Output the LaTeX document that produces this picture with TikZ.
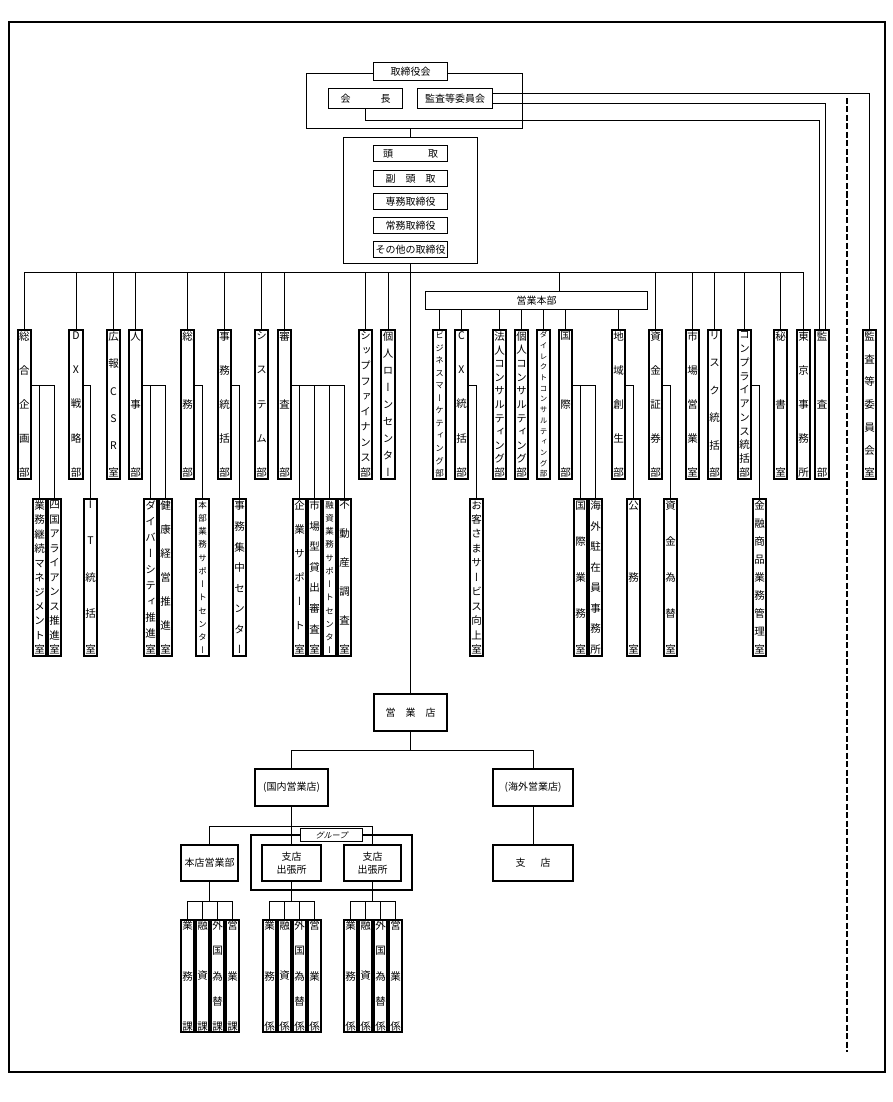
\documentclass[tikz,border=0pt]{standalone}
\usepackage{fontspec}
\setmainfont{Noto Sans CJK JP}
\newfontfamily\tatefont[RawFeature=+vert]{Noto Sans CJK JP}
\newfontfamily\slantfont[FakeSlant=0.25]{Noto Sans CJK JP}

% vertical (tategaki) label, characters spread over the box height
\makeatletter
\def\tate@first#1#2\relax{#1\@tfor\tate@c:=#2\do{\par\vfill\tate@c}}
\newcommand\tate[2][145]{\parbox[c][#1pt][s]{13pt}{\tatefont\centering
  \lineskiplimit=-30pt\lineskip=0pt\edef\tate@s{#2}\expandafter\tate@first\tate@s\relax}}
\makeatother

\tikzset{
  line/.style={line width=1pt},
  frame/.style={line width=1.3pt},
  vbox/.style={draw, line width=1.6pt, fill=white, inner sep=0pt, minimum width=13.5pt,
    font=\fontsize{10.5}{11.5}\selectfont},
  topbox/.style={vbox, minimum height=149.5pt},
  subbox/.style={vbox, minimum height=157.5pt},
  kabox/.style={vbox, minimum height=112.5pt},
  packed/.style={font=\fontsize{8.5}{10}\selectfont},
  hbox/.style={draw, line width=1.6pt, fill=white, inner sep=0pt, align=center,
    font=\fontsize{10}{13}\selectfont},
  execbox/.style={hbox, minimum width=74pt, minimum height=16pt},
  shopbox/.style={hbox, minimum height=36.5pt},
}

\begin{document}
\begin{tikzpicture}[x=1pt, y=-1pt]
  \useasboundingbox (0,0) rectangle (892,1102);
  \draw[frame] (9,22) rectangle (885,1072);

  % board of directors
  \node[hbox, minimum width=216pt, minimum height=55pt] (board) at (414.5,101) {};
  \node[hbox, minimum width=74pt, minimum height=18pt] (torishimari) at (410.5,71.5) {取締役会};
  \node[hbox, minimum width=74pt, minimum height=20pt] (kaicho) at (365.5,98.5) {会\hspace{3em}長};
  \node[hbox, minimum width=75pt, minimum height=20pt] (kansatou) at (455,98.5) {監査等委員会};

  % executives
  \node[hbox, minimum width=134pt, minimum height=126pt] (exec) at (410.5,200.5) {};
  \node[execbox] (todori) at (410.5,153.5) {頭\hspace{3.5em}取};
  \node[execbox] (fukutodori) at (410.5,178.5) {副\hspace{1em}頭\hspace{1em}取};
  \node[execbox] (senmu) at (410.5,201.5) {専務取締役};
  \node[execbox] (jomu) at (410.5,225.5) {常務取締役};
  \node[execbox] (sonota) at (410.5,249.5) {その他の取締役};

  \coordinate (bar) at (0,272);
  \coordinate (sub) at (0,385);

  % departments
  \node[topbox] (sogo) at (24.5,404.5) {\tate{総合企画部}};
  \node[topbox] (dx) at (76,404.5) {\tate{DX戦略部}};
  \node[topbox] (koho) at (113.5,404.5) {\tate{広報CSR室}};
  \node[topbox] (jinji) at (135.5,404.5) {\tate{人事部}};
  \node[topbox] (somu) at (187.5,404.5) {\tate{総務部}};
  \node[topbox] (jimu) at (224.5,404.5) {\tate{事務統括部}};
  \node[topbox] (system) at (261.5,404.5) {\tate{システム部}};
  \node[topbox] (shinsa) at (284.5,404.5) {\tate{審査部}};
  \node[topbox] (ship) at (365.5,404.5) {\tate{シップファイナンス部}};
  \node[topbox] (loan) at (388,404.5) {\tate{個人ローンセンター}};
  \node[hbox, minimum width=222pt, minimum height=18pt] (honbu) at (536.5,300.5) {営業本部};
  \node[topbox, packed] (biz) at (439.5,404.5) {\tate{ビジネスマーケティング部}};
  \node[topbox] (cx) at (461.5,404.5) {\tate{CX統括部}};
  \node[topbox] (hojin) at (499.5,404.5) {\tate{法人コンサルティング部}};
  \node[topbox] (kojin) at (521.5,404.5) {\tate{個人コンサルティング部}};
  \node[topbox, font=\fontsize{7.5}{9.5}\selectfont] (direct) at (543.5,404.5) {\tate{ダイレクトコンサルティング部}};
  \node[topbox] (kokusai) at (565.5,404.5) {\tate{国際部}};
  \node[topbox] (chiiki) at (618.5,404.5) {\tate{地域創生部}};
  \node[topbox] (shikin) at (655.5,404.5) {\tate{資金証券部}};
  \node[topbox] (shijo) at (692.5,404.5) {\tate{市場営業室}};
  \node[topbox] (risk) at (714.5,404.5) {\tate{リスク統括部}};
  \node[topbox] (comp) at (744.5,404.5) {\tate{コンプライアンス統括部}};
  \node[topbox] (hisho) at (780.5,404.5) {\tate{秘書室}};
  \node[topbox] (tokyo) at (803.5,404.5) {\tate{東京事務所}};
  \node[topbox, minimum width=14.5pt] (kansa) at (822,404.5) {\tate{監査部}};
  \node[topbox] (iinshitsu) at (869.5,404.5) {\tate{監査等委員会室}};

  % offices under departments
  \node[subbox] (keizoku) at (39.5,577.5) {\tate[153]{業務継続マネジメント室}};
  \node[subbox] (shikoku) at (54.5,577.5) {\tate[153]{四国アライアンス推進室}};
  \node[subbox] (it) at (90.5,577.5) {\tate[153]{IT統括室}};
  \node[subbox] (diversity) at (150.5,577.5) {\tate[153]{ダイバーシティ推進室}};
  \node[subbox] (kenko) at (165.5,577.5) {\tate[153]{健康経営推進室}};
  \node[subbox, packed] (honsupport) at (202.5,577.5) {\tate[153]{本部業務サポートセンター}};
  \node[subbox] (shuchu) at (239.5,577.5) {\tate[153]{事務集中センター}};
  \node[subbox] (kigyo) at (299.5,577.5) {\tate[153]{企業サポート室}};
  \node[subbox] (shijogata) at (314.5,577.5) {\tate[153]{市場型貸出審査室}};
  \node[subbox, packed] (yushi) at (329.5,577.5) {\tate[153]{融資業務サポートセンター}};
  \node[subbox] (fudosan) at (344.5,577.5) {\tate[153]{不動産調査室}};
  \node[subbox] (okyaku) at (476.5,577.5) {\tate[153]{お客さまサービス向上室}};
  \node[subbox] (kokusaigyomu) at (580.5,577.5) {\tate[153]{国際業務室}};
  \node[subbox] (chuzai) at (595.5,577.5) {\tate[153]{海外駐在員事務所}};
  \node[subbox] (komu) at (633.5,577.5) {\tate[153]{公務室}};
  \node[subbox] (kawase) at (670.5,577.5) {\tate[153]{資金為替室}};
  \node[subbox] (kinyu) at (759.5,577.5) {\tate[153]{金融商品業務管理室}};

  % connectors, head office
  \draw[line] (exec.north) -- (exec.north |- board.south);
  \draw[line] (sogo.north) |- (tokyo.north |- bar) -- (tokyo.north);
  \foreach \n in {dx,koho,jinji,somu,jimu,system,shinsa,ship,loan,shikin,shijo,risk,comp,hisho}
    \draw[line] (\n.north) -- (\n.north |- bar);
  \draw[line] ([xshift=22.5pt]honbu.north) -- ++(0,-19);
  \foreach \n in {biz,cx,hojin,kojin,direct,kokusai,chiiki}
    \draw[line] (\n.north) -- (\n.north |- honbu.south);
  \foreach \p/\c in {sogo/keizoku, sogo/shikoku, dx/it, jinji/diversity, jinji/kenko,
      somu/honsupport, jimu/shuchu, shinsa/kigyo, shinsa/shijogata, shinsa/yushi,
      shinsa/fudosan, cx/okyaku, kokusai/kokusaigyomu, kokusai/chuzai, chiiki/komu,
      shikin/kawase, comp/kinyu}
    \draw[line] (\p.east |- sub) -| (\c.north);

  % audit lines
  \draw[line] ([yshift=4.5pt]kansatou.east) -| (iinshitsu.north);
  \draw[line] ([yshift=-5.5pt]kansatou.east) -| ([xshift=3pt]kansa.north);
  \draw[line] (kaicho.south) -- ++(0,11) -| ([xshift=-3pt]kansa.north);
  \draw[line width=2.8pt, dash pattern=on 6pt off 2.5pt] (847,98) -- (847,1052);

  % branches
  \node[hbox, minimum width=72.5pt, minimum height=37.5pt] (eigyoten) at (410.5,712.5) {営\hspace{1em}業\hspace{1em}店};
  \node[hbox, minimum width=72.5pt, minimum height=37.5pt] (kokunai) at (291.5,787.5) {(国内営業店)};
  \node[hbox, minimum width=80.5pt, minimum height=37.5pt] (kaigai) at (533,787.5) {(海外営業店)};
  \node[shopbox, minimum width=80.5pt] (shiten) at (533,863) {支\hspace{1.5em}店};
  \node[draw, line width=1.2pt, minimum width=161pt, minimum height=55pt] (group) at (331.5,862.5) {};
  \node[hbox, line width=1.2pt, minimum width=62pt, minimum height=13pt, font=\slantfont\fontsize{8}{9}\selectfont] (grouplabel) at (331.5,835) {グループ};
  \node[shopbox, minimum width=57.5pt] (honten) at (209.5,863) {本店営業部};
  \node[shopbox, minimum width=58.5pt] (shutcho1) at (291.5,863) {支店\\出張所};
  \node[shopbox, minimum width=57.5pt] (shutcho2) at (372.5,863) {支店\\出張所};

  \coordinate (mid) at (0,750);
  \coordinate (grp) at (0,826);
  \coordinate (bot) at (0,901);
  \draw[line] (exec.south) -- (eigyoten.north);
  \draw[line] (eigyoten.south) -- (eigyoten.south |- mid);
  \draw[line] (kokunai.north) |- (kaigai.north |- mid) -- (kaigai.north);
  \draw[line] (kaigai.south) -- (shiten.north);
  \draw[line] (kokunai.south) -- (kokunai.south |- grp);
  \draw[line] (honten.north) |- (shutcho2.north |- grp) -- (shutcho2.north);
  \draw[line] (shutcho1.north) -- (shutcho1.north |- grp);

  % sections
  \foreach \g/\x/\u in {h/180/課, a/262/係, b/343/係} {
    \foreach \t [count=\i] in {業務,融資,外国為替,営業}
      \node[kabox] (\g\i) at ({\x+15*\i-7.5},976) {\tate[109]{\t\u}};
  }
  \foreach \p/\g in {honten/h, shutcho1/a, shutcho2/b} {
    \draw[line] (\p.south) -- (\p.south |- bot);
    \draw[line] (\g1.north) |- (\g4.north |- bot) -- (\g4.north);
    \foreach \i in {2,3}
      \draw[line] (\g\i.north) -- (\g\i.north |- bot);
  }
\end{tikzpicture}
\end{document}
